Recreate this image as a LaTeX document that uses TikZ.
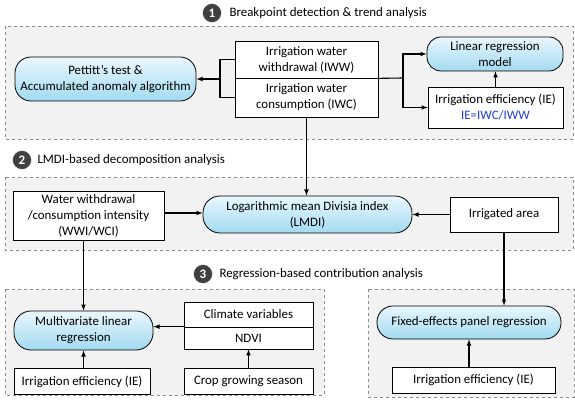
\documentclass[tikz,border=0pt]{standalone}
\usepackage{fontspec}
\setmainfont{Carlito}
\usepackage{tikz}

\definecolor{pilltop}{HTML}{EAF7FD}
\definecolor{pillbot}{HTML}{A2DAF1}
\definecolor{groupfill}{HTML}{F2F2F2}
\definecolor{groupline}{HTML}{8C8C8C}
\definecolor{numfill}{HTML}{404040}
\definecolor{ieblue}{HTML}{1F3FE0}

\begin{document}
\begin{tikzpicture}[x=1pt, y=1pt,
    font=\fontsize{12.9}{16}\selectfont,
    groupbox/.style={draw=groupline, fill=groupfill, dashed, line width=0.8pt},
    plainbox/.style={draw, fill=white, line width=0.7pt, align=center, inner sep=1pt},
    pill/.style={draw, line width=0.8pt, rounded corners=16pt, align=center,
      top color=pilltop, bottom color=pillbot, inner sep=1pt},
    stepnum/.style={circle, fill=numfill, draw=white, text=white, minimum size=19pt,
      inner sep=0pt, font=\fontsize{13}{13}\selectfont\bfseries},
    link/.style={->, >=latex, line width=1.1pt}]
  \useasboundingbox (0,0) rectangle (575,-403);

  % groups
  \draw[groupbox] (5,-26) rectangle (573,-139);
  \draw[groupbox] (5,-177) rectangle (573,-250);
  \draw[groupbox] (5,-289) rectangle (324,-395);
  \draw[groupbox] (368,-289) rectangle (574,-397);

  % group titles
  \node[stepnum] (n1) at (212,-13) {1};
  \node[anchor=west] (t1) at (226,-13) {Breakpoint detection \& trend analysis};
  \node[stepnum] (n2) at (22,-160) {2};
  \node[anchor=west] (t2) at (34,-160) {LMDI-based decomposition analysis};
  \node[stepnum] (n3) at (203,-274) {3};
  \node[anchor=west] (t3) at (216,-274) {Regression-based contribution analysis};

  % part 1
  \node[pill, minimum width=181, minimum height=44] (pettitt) at (105.5,-79)
    {Pettitt's test \&\\Accumulated anomaly algorithm};
  \node[plainbox, minimum width=143, minimum height=37] (iww) at (306.5,-59.5)
    {Irrigation water\\withdrawal (IWW)};
  \node[plainbox, minimum width=143, minimum height=39] (iwc) at (306.5,-97.5)
    {Irrigation water\\consumption (IWC)};
  \node[pill, rounded corners=14pt, minimum width=136, minimum height=34] (linreg) at (495,-54)
    {Linear regression\\model};
  \node[plainbox, minimum width=135, minimum height=41] (ie1) at (495.5,-107.5)
    {Irrigation efficiency (IE)\\\textcolor{ieblue}{IE=IWC/IWW}};

  \coordinate (jl) at (220,-79);
  \coordinate (jr) at (403,-78);
  \draw[line width=1.1pt] (iww.west) -| (jl);
  \draw[line width=1.1pt] (iwc.west) -| (jl);
  \draw[link] (jl) -- (pettitt.east);
  \draw[line width=1.1pt] (iww.south east) -- (jr);
  \draw[link] (jr) |- (linreg.west);
  \draw[link] (jr) |- (ie1.west);
  \draw[link] (ie1.north) -- (ie1.north |- linreg.south);

  % part 2
  \node[plainbox, minimum width=151, minimum height=49] (wwi) at (88.5,-215.5)
    {Water withdrawal\\/consumption intensity\\(WWI/WCI)};
  \node[pill, rounded corners=17pt, minimum width=209, minimum height=37] (lmdi) at (307.5,-214.5)
    {Logarithmic mean Divisia index\\(LMDI)};
  \node[plainbox, minimum width=108, minimum height=35] (area) at (504,-214.5)
    {Irrigated area};

  \draw[link] (iwc.south) -- (iwc.south |- lmdi.north);
  \draw[link] (wwi.east |- 0,-213) -- (lmdi.west |- 0,-213);
  \draw[link] (area.west) -- (lmdi.east);

  % part 3
  \node[pill, rounded corners=17pt, minimum width=139, minimum height=39] (multi) at (83.5,-330.5)
    {Multivariate linear\\regression};
  \node[plainbox, minimum width=129, minimum height=25] (climate) at (248.5,-314.5)
    {Climate variables};
  \node[plainbox, minimum width=129, minimum height=22] (ndvi) at (248.5,-338)
    {NDVI};
  \node[plainbox, minimum width=136, minimum height=26] (ie2) at (82,-381.5)
    {Irrigation efficiency (IE)};
  \node[plainbox, minimum width=129, minimum height=26] (crop) at (248.5,-381.5)
    {Crop growing season};
  \node[pill, minimum width=184, minimum height=33] (fixed) at (469,-322.5)
    {Fixed-effects panel regression};
  \node[plainbox, minimum width=163, minimum height=26] (ie3) at (473.5,-380)
    {Irrigation efficiency (IE)};

  \draw[link] (multi.north |- wwi.south) -- (multi.north);
  \draw[link] (area.south) -- (area.south |- fixed.north);
  \draw[link] (ndvi.north west) -- (ndvi.north west -| multi.east);
  \draw[link] (crop.north) -- (ndvi.south);
  \draw[link] (multi.south |- ie2.north) -- (multi.south);
  \draw[link] (fixed.south |- ie3.north) -- (fixed.south);
\end{tikzpicture}
\end{document}
